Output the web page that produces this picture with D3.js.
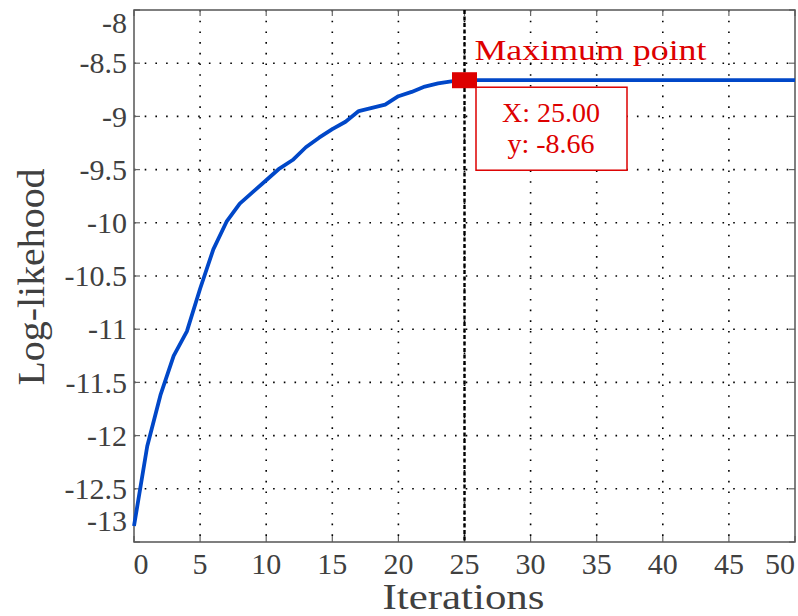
<!DOCTYPE html>
<html>
<head>
<meta charset="utf-8">
<script src="https://cdnjs.cloudflare.com/ajax/libs/d3/7.8.5/d3.min.js"></script>
<style>
  body { margin: 0; background: #fff; }
  text { font-family: "Liberation Serif", "DejaVu Serif", serif; }
</style>
</head>
<body>
<svg id="drawing_region"></svg>
<script>
// data
const iterations = d3.range(0, 51);
const logLik = [
  -12.85, -12.10, -11.62, -11.25, -11.02, -10.62, -10.25, -9.99, -9.82, -9.71,
  -9.60, -9.49, -9.41, -9.29, -9.20, -9.12, -9.05, -8.95, -8.92, -8.89,
  -8.81, -8.77, -8.72, -8.69, -8.67, -8.66, -8.66, -8.66, -8.66, -8.66,
  -8.66, -8.66, -8.66, -8.66, -8.66, -8.66, -8.66, -8.66, -8.66, -8.66,
  -8.66, -8.66, -8.66, -8.66, -8.66, -8.66, -8.66, -8.66, -8.66, -8.66,
  -8.66
];
const xTicks = [0, 5, 10, 15, 20, 25, 30, 35, 40, 45, 50];
const yTicks = [-8, -8.5, -9, -9.5, -10, -10.5, -11, -11.5, -12, -12.5, -13];
const maxPoint = { x: 25, y: -8.66 };
const labels = { x: 'Iterations', y: 'Log-likehood', marker: 'Maximum point' };

const width = 798, height = 616;
const margin = { top: 10, right: 3, bottom: 74, left: 134 };
const innerW = width - margin.left - margin.right;
const innerH = height - margin.top - margin.bottom;

const svg = d3.select('#drawing_region')
    .attr('width', width)
    .attr('height', height);

const g = svg.append('g')
    .attr('transform', `translate(${margin.left},${margin.top})`);

const x = d3.scaleLinear().domain([0, 50]).range([0, innerW]);
const y = d3.scaleLinear().domain([-13, -8]).range([innerH, 0]);

// grid (dotted)
g.append('g').selectAll('line')
    .data(xTicks.slice(1, -1))
    .join('line')
    .attr('x1', d => x(d)).attr('x2', d => x(d))
    .attr('y1', 0).attr('y2', innerH)
    .attr('stroke', '#000').attr('stroke-width', 1.6)
    .attr('stroke-dasharray', '1.6,9.1');
g.append('g').selectAll('line')
    .data(yTicks.slice(1, -1))
    .join('line')
    .attr('y1', d => y(d)).attr('y2', d => y(d))
    .attr('x1', 0).attr('x2', innerW)
    .attr('stroke', '#000').attr('stroke-width', 1.6)
    .attr('stroke-dasharray', '1.6,9.1');

// inner ticks on all sides
const tickColor = '#666', tl = 6;
const tickG = g.append('g').attr('stroke', tickColor).attr('stroke-width', 1.2);
xTicks.forEach(d => {
    tickG.append('line').attr('x1', x(d)).attr('x2', x(d)).attr('y1', innerH).attr('y2', innerH - tl);
    tickG.append('line').attr('x1', x(d)).attr('x2', x(d)).attr('y1', 0).attr('y2', tl);
});
yTicks.forEach(d => {
    tickG.append('line').attr('y1', y(d)).attr('y2', y(d)).attr('x1', 0).attr('x2', tl);
    tickG.append('line').attr('y1', y(d)).attr('y2', y(d)).attr('x1', innerW).attr('x2', innerW - tl);
});

// box
g.append('rect')
    .attr('x', 0).attr('y', 0)
    .attr('width', innerW).attr('height', innerH)
    .attr('fill', 'none')
    .attr('stroke', '#555').attr('stroke-width', 1.5);

// tick labels
const labelColor = '#404040';
g.append('g').selectAll('text')
    .data(xTicks)
    .join('text')
    .attr('x', d => {
        const p = x(d);
        if (d === xTicks[0]) return p + 7;
        if (d === xTicks[xTicks.length - 1]) return p - 15;
        return p;
    })
    .attr('y', innerH + 32)
    .attr('text-anchor', 'middle')
    .attr('font-size', 30)
    .attr('fill', labelColor)
    .text(d => d);

g.append('g').selectAll('text')
    .data(yTicks)
    .join('text')
    .attr('x', -7)
    .attr('y', d => {
        const p = y(d);
        if (d === yTicks[0]) return p + 13;
        if (d === yTicks[yTicks.length - 1]) return p - 21;
        return p;
    })
    .attr('dy', '0.34em')
    .attr('text-anchor', 'end')
    .attr('font-size', 30)
    .attr('fill', labelColor)
    .text(d => d);

// axis titles
g.append('text')
    .attr('x', innerW / 2 - 1)
    .attr('y', innerH + 67)
    .attr('text-anchor', 'middle')
    .attr('font-size', 36)
    .attr('fill', labelColor)
    .attr('textLength', 162).attr('lengthAdjust', 'spacingAndGlyphs')
    .text(labels.x);

g.append('text')
    .attr('transform', `translate(${44 - margin.left},${277 - margin.top}) rotate(-90)`)
    .attr('text-anchor', 'middle')
    .attr('font-size', 37)
    .attr('fill', labelColor)
    .attr('textLength', 217).attr('lengthAdjust', 'spacingAndGlyphs')
    .text(labels.y);

// maximum line (dashed, vertical)
g.append('line')
    .attr('x1', x(maxPoint.x)).attr('x2', x(maxPoint.x))
    .attr('y1', 0).attr('y2', innerH)
    .attr('stroke', '#000').attr('stroke-width', 2.4)
    .attr('stroke-dasharray', '4,2.5');

// the curve
const line = d3.line()
    .x((d, i) => x(iterations[i]))
    .y(d => y(d));

g.append('path')
    .datum(logLik)
    .attr('d', line)
    .attr('fill', 'none')
    .attr('stroke', '#0047c8')
    .attr('stroke-width', 3.8)
    .attr('stroke-linejoin', 'round');

// marker + annotation
const red = '#dd0000';
const mx = x(maxPoint.x), my = y(maxPoint.y);
g.append('rect')
    .attr('x', mx - 12.5).attr('y', my - 8)
    .attr('width', 25).attr('height', 16)
    .attr('fill', red);

g.append('text')
    .attr('x', mx + 10).attr('y', my - 20)
    .attr('font-size', 29)
    .attr('fill', red)
    .attr('textLength', 232).attr('lengthAdjust', 'spacingAndGlyphs')
    .text(labels.marker);

const bx = mx + 11.5, by = my + 7;
g.append('rect')
    .attr('x', bx).attr('y', by)
    .attr('width', 151).attr('height', 83)
    .attr('fill', '#fff')
    .attr('stroke', red).attr('stroke-width', 1.5);

g.append('text')
    .attr('x', bx + 75).attr('y', by + 35)
    .attr('text-anchor', 'middle')
    .attr('font-size', 28)
    .attr('fill', red)
    .text('X: ' + maxPoint.x.toFixed(2));

g.append('text')
    .attr('x', bx + 75).attr('y', by + 66)
    .attr('text-anchor', 'middle')
    .attr('font-size', 28)
    .attr('fill', red)
    .text('y: ' + maxPoint.y.toFixed(2));
</script>
</body>
</html>
